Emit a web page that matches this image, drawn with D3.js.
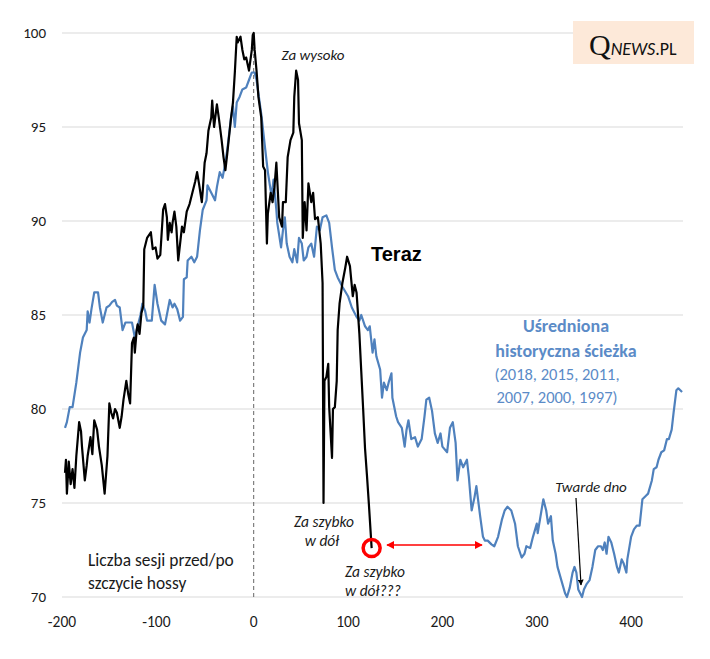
<!DOCTYPE html>
<html><head><meta charset="utf-8">
<script src="https://cdn.jsdelivr.net/npm/d3@7"></script>
<style>
body{margin:0;background:#fff;}
svg text{font-family:Carlito,Lato,"Open Sans",sans-serif;}
</style></head><body>
<svg id="c" width="710" height="659"></svg>
<script>
// ---- data ----
const xTicks = [-200,-100,0,100,200,300,400];
const yTicks = [70,75,80,85,90,95,100];
const yLabels = ["70","75","80","85","90","95","100"];

// current ("Teraz") path: session offset vs. % of peak
const teraz_x = [-200,-199,-198,-196,-194,-192,-190,-188,-185,-183,-182,-179,-177,-176,-173,-171,-169,-166,-164,-161,-158,-155,-153,-151,-149,-147,-145,-142,-140,-138,-135,-133,-131,-129,-127,-126,-124,-123,-121,-119,-117,-116,-113,-109,-107,-104,-102,-99,-96,-94,-92,-91,-89,-87,-86,-84,-82,-80,-76,-74,-71,-68,-65,-62,-60,-58,-55,-54,-52,-50,-48,-45,-44,-42,-39,-37,-34,-32,-30,-28,-24,-22,-20,-18,-17,-14,-12,-10,-8,-5,-2,-1,0,1,3,5,8,10,12,14,15,18,20,22,24,27,30,31,34,36,39,42,43,45,47,48,51,52,54,56,58,61,63,65,68,71,73,74,75,77,79,80,83,84,86,88,89,91,94,97,99,102,105,107,109,112,114,116,118,120,122,125];
const teraz_y = [76.6,77.3,75.5,77.2,76.0,76.8,75.8,77.5,79.3,78.8,78.0,76.2,77.0,77.5,78.5,77.6,79.4,78.9,78.0,77.0,75.5,77.5,80.3,79.8,79.5,80.0,79.8,79.0,79.6,80.5,81.5,80.8,80.3,83.5,83.8,83.0,84.2,84.5,84.0,85.1,85.5,88.5,89.1,89.4,88.5,88.6,88.0,88.2,90.6,90.9,90.2,89.0,89.9,89.4,89.9,90.5,89.7,87.9,89.7,89.4,90.5,90.9,91.5,92.1,92.6,92.0,91.0,91.6,93.1,93.6,94.8,95.5,96.4,95.0,96.2,95.5,94.3,93.4,92.7,93.6,95.5,96.3,97.9,99.8,99.5,99.8,99.1,98.6,98.7,98.0,99.1,99.9,100.0,99.1,98.0,96.6,95.5,92.9,92.7,88.8,90.4,91.5,91.0,91.8,93.1,90.2,89.7,91.0,91.0,93.4,94.3,94.7,96.6,98.0,97.5,95.2,94.3,89.1,91.0,89.5,92.0,91.0,91.5,90.1,90.2,88.8,86.7,75.0,81.5,81.7,82.4,80.1,77.4,80.0,80.1,81.5,84.2,85.6,86.7,87.5,88.1,87.6,86.0,86.6,86.2,84.0,82.0,80.0,77.9,76.5,75.0,72.6];

// averaged historical path (2018, 2015, 2011, 2007, 2000, 1997)
const avg_x = [-200,-198,-195,-192,-188,-184,-181,-177,-176,-174,-172,-169,-165,-163,-160,-156,-153,-150,-147,-145,-142,-139,-136,-134,-129,-126,-123,-120,-118,-115,-113,-108,-105,-102,-98,-94,-89,-86,-84,-81,-78,-75,-74,-71,-70,-66,-63,-60,-57,-54,-50,-49,-45,-41,-39,-36,-33,-30,-28,-24,-22,-20,-18,-15,-12,-8,-5,-2,1,3,8,12,15,19,21,24,25,29,31,33,35,38,41,43,46,48,51,53,56,58,61,64,67,70,73,77,80,83,86,89,94,100,104,109,112,114,118,121,123,126,128,130,134,136,138,141,143,146,147,151,153,157,160,162,164,167,171,174,178,181,183,186,189,192,195,198,200,205,208,211,214,216,219,222,226,228,231,234,236,240,243,245,248,252,255,259,263,266,269,273,277,280,284,287,289,293,296,300,301,305,307,310,312,315,317,320,322,326,330,332,335,338,340,342,344,348,350,353,356,359,362,365,368,370,372,374,376,379,382,385,387,390,392,395,396,400,403,406,409,412,416,418,422,424,427,429,432,435,438,440,443,445,448,450,454];
const avg_y = [79.0,79.3,80.1,80.1,81.4,83.0,83.8,84.2,85.2,84.6,85.3,86.2,86.2,85.4,84.6,85.4,85.5,85.7,85.8,85.5,85.4,84.2,84.6,84.6,84.6,83.8,84.4,85.0,85.6,85.2,84.7,84.7,86.6,85.6,84.7,84.5,85.8,85.4,85.6,85.3,84.7,84.9,86.9,87.0,87.9,88.1,87.8,88.1,89.5,90.6,91.1,91.9,91.5,91.1,91.8,92.6,92.3,93.1,93.8,95.5,96.1,95.0,96.3,96.6,97.0,97.1,97.5,97.9,97.9,97.5,95.7,93.9,92.6,91.3,92.2,90.6,89.9,88.6,89.5,90.2,88.8,88.1,87.8,88.5,87.8,89.1,88.8,87.9,88.1,88.6,88.8,88.1,89.7,89.5,90.2,90.3,89.9,88.6,87.4,87.0,86.5,86.0,85.4,84.9,84.7,85.0,84.4,84.2,84.4,83.0,83.7,82.8,82.1,80.6,81.4,81.0,81.4,81.9,80.6,79.6,79.3,79.0,78.0,78.9,79.4,78.4,78.5,78.0,78.4,79.6,80.5,80.6,79.9,78.7,78.2,78.7,78.0,77.7,79.0,79.3,78.2,76.2,77.3,76.9,77.3,76.4,74.6,75.3,75.9,74.3,73.2,73.0,73.0,72.8,72.7,73.2,74.1,74.6,74.8,74.6,73.9,72.7,72.1,72.3,72.7,72.6,73.2,73.9,73.4,74.6,75.2,74.6,73.9,74.3,73.0,72.3,71.6,70.9,70.2,70.0,70.5,71.3,71.6,71.3,70.4,70.0,70.4,70.7,70.9,71.6,72.5,72.7,72.7,72.5,72.9,72.3,73.2,72.9,72.3,71.6,71.3,72.0,71.8,71.3,72.0,73.2,73.6,73.8,73.8,75.2,75.4,75.5,76.2,76.8,76.9,77.3,77.7,77.8,78.4,78.4,78.9,79.8,81.0,81.1,80.9];

// ---- chart ----
const svg = d3.select("#c");
const x = d3.scaleLinear().domain([-200,455]).range([65,683]);
const y = d3.scaleLinear().domain([70,100]).range([597,33]);

// gridlines
svg.append("g").selectAll("line").data(yTicks).join("line")
  .attr("x1",62).attr("x2",683).attr("y1",d=>y(d)).attr("y2",d=>y(d))
  .attr("stroke","#d9d9d9").attr("stroke-width",1.2);

// y tick labels
svg.append("g").selectAll("text").data(yTicks).join("text")
  .attr("x",46).attr("y",d=>y(d)+5).attr("text-anchor","end")
  .attr("font-size",15).attr("fill","#1a1a1a").text((d,i)=>yLabels[i]);

// x tick labels
svg.append("g").selectAll("text").data(xTicks).join("text")
  .attr("x",d=>x(d)-(d<0?3:0)).attr("y",627).attr("text-anchor","middle")
  .attr("font-size",15.5).attr("fill","#1a1a1a").text(d=>d);

// dashed zero line
svg.append("line").attr("x1",x(0)).attr("x2",x(0)).attr("y1",y(100)).attr("y2",y(70))
  .attr("stroke","#666").attr("stroke-width",1).attr("stroke-dasharray","4,3");

const line = d3.line().x(d=>x(d[0])).y(d=>y(d[1]));
svg.append("path").datum(d3.zip(avg_x,avg_y)).attr("d",line)
  .attr("fill","none").attr("stroke","#4f81bd").attr("stroke-width",2.2).attr("stroke-linejoin","round");
svg.append("path").datum(d3.zip(teraz_x,teraz_y)).attr("d",line)
  .attr("fill","none").attr("stroke","#000").attr("stroke-width",2.2).attr("stroke-linejoin","round");

// annotations
function t(txt,xx,yy,opt={}){
  const e=svg.append("text").attr("x",xx).attr("y",yy).text(txt)
   .attr("font-size",opt.size||13).attr("fill",opt.fill||"#1a1a1a")
   .attr("text-anchor",opt.anchor||"middle");
  if(opt.italic) e.attr("font-style","italic");
  if(opt.bold) e.attr("font-weight","bold");
  if(opt.family) e.style("font-family",opt.family);
  return e;
}
t("Za wysoko",313,60,{italic:true,size:15});
t("Teraz",371,261,{bold:true,size:20,anchor:"start",family:"Arial, 'Liberation Sans', sans-serif",fill:"#000"});
t("Uśredniona",566,332,{bold:true,size:18,fill:"#5b8bc7"});
t("historyczna ścieżka",566,357,{bold:true,size:18,fill:"#5b8bc7"});
t("(2018, 2015, 2011,",557,380,{size:16.5,fill:"#5b8bc7"});
t("2007, 2000, 1997)",557,403,{size:16.5,fill:"#5b8bc7"});
t("Twarde  dno",591,492,{italic:true,size:15});
t("Za szybko",324,527,{italic:true,size:15.5});
t("w dół",322,546,{italic:true,size:15.5});
t("Za szybko",375,577,{italic:true,size:15.5});
t("w dół???",373,596,{italic:true,size:15.5});
t("Liczba sesji przed/po",88,566,{size:17.4,anchor:"start"});
t("szczycie hossy",88,589,{size:17.4,anchor:"start"});

// arrow markers
const defs=svg.append("defs");
defs.append("marker").attr("id","ab").attr("viewBox","0 0 10 10").attr("refX",9).attr("refY",5)
 .attr("markerWidth",5).attr("markerHeight",5).attr("orient","auto")
 .append("path").attr("d","M0,0L10,5L0,10Z").attr("fill","#000");
defs.append("marker").attr("id","ar").attr("viewBox","0 0 10 10").attr("refX",9).attr("refY",5)
 .attr("markerWidth",6).attr("markerHeight",6).attr("orient","auto-start-reverse")
 .append("path").attr("d","M0,0L10,5L0,10Z").attr("fill","#ff0000");

svg.append("line").attr("x1",576).attr("y1",498).attr("x2",581).attr("y2",585)
  .attr("stroke","#000").attr("stroke-width",1.2).attr("marker-end","url(#ab)");

// red circle at end of current series
svg.append("circle").attr("cx",x(125)).attr("cy",y(72.6)).attr("r",8.5)
  .attr("fill","none").attr("stroke","#ff0000").attr("stroke-width",3.5);
svg.append("line").attr("x1",387).attr("y1",545).attr("x2",482).attr("y2",545)
  .attr("stroke","#ff0000").attr("stroke-width",1.3)
  .attr("marker-start","url(#ar)").attr("marker-end","url(#ar)");

// logo
svg.append("rect").attr("x",573).attr("y",21).attr("width",121).attr("height",43).attr("fill","#fde9d9");
const lg=svg.append("text").attr("x",589).attr("y",55).attr("fill","#111");
lg.append("tspan").text("Q").style("font-family","'Liberation Serif','DejaVu Serif',serif").attr("font-size",30);
lg.append("tspan").text("NEWS").style("font-family","Carlito,Lato,sans-serif").attr("font-style","italic").attr("font-size",18);
lg.append("tspan").text(".PL").style("font-family","Carlito,Lato,sans-serif").attr("font-size",18);
</script></body></html>
